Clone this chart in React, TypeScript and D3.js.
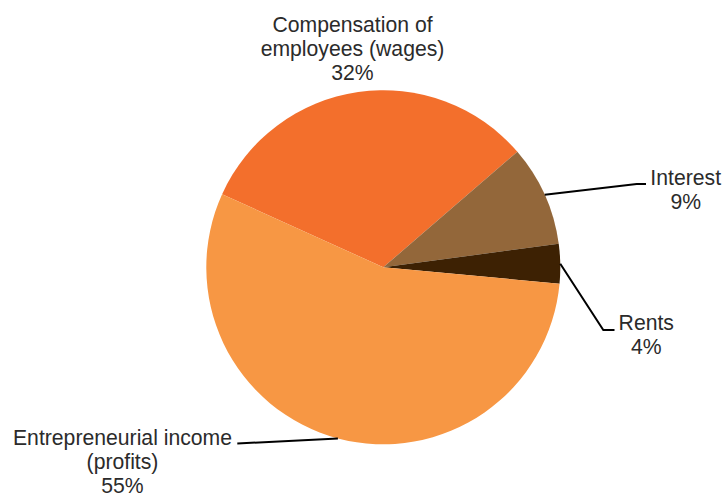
import React from "react";
import * as d3 from "d3";

const categories = ["Compensation of employees (wages)", "Interest", "Rents", "Entrepreneurial income (profits)"];
const values = [31.9, 9.2, 3.6, 55.3];
const colors = ["#F36F2C", "#93673A", "#3D2103", "#F79744"];
const labelLines = [
  ["Compensation of", "employees (wages)"],
  ["Interest"],
  ["Rents"],
  ["Entrepreneurial income", "(profits)"],
];

const W = 726, H = 495;
const cx = 383.3, cy = 267.3, R = 177;
const startDeg = -65.6;

// layout: label anchor (center x, first baseline y), leader elbow and end
const labelLayout = [
  { x: 352.5, y: 31.5, leader: null as null | number[][] },
  { x: 685.7, y: 185, leader: [[636.7, 184], [646, 184]] },
  { x: 646.3, y: 330, leader: [[603.3, 330], [614.5, 330]] },
  { x: 122.5, y: 444.5, leader: [[237.3, 443.5], [237.3, 443.5]] },
];

export default function App() {
  const pie = d3
    .pie<number>()
    .sort(null)
    .value((d) => d)
    .startAngle((startDeg * Math.PI) / 180)
    .endAngle((startDeg * Math.PI) / 180 + 2 * Math.PI);
  const arcs = pie(values);
  const arc = d3.arc<d3.PieArcDatum<number>>().innerRadius(0).outerRadius(R);
  const total = d3.sum(values);
  const fs = 21.2;
  const lh = 24;

  return (
    <svg
      width={W}
      height={H}
      style={{ position: "absolute", left: 0, top: 0, background: "#fff" }}
      fontFamily="'Liberation Sans', Arial, sans-serif"
    >
      <g transform={`translate(${cx},${cy})`}>
        {arcs.map((a, i) => (
          <path key={i} d={arc(a) || ""} fill={colors[i]} />
        ))}
      </g>
      {arcs.map((a, i) => {
        const lay = labelLayout[i];
        const mid = (a.startAngle + a.endAngle) / 2;
        const sx = cx + R * Math.sin(mid);
        const sy = cy - R * Math.cos(mid);
        const lines = [...labelLines[i], `${Math.round((values[i] / total) * 100)}%`];
        return (
          <g key={i}>
            {lay.leader && (
              <polyline
                points={[[sx, sy], ...lay.leader].map((p) => p.join(",")).join(" ")}
                fill="none"
                stroke="#000"
                strokeWidth={2}
              />
            )}
            <text x={lay.x} y={lay.y} textAnchor="middle" fontSize={fs} fill="#2b2b2b">
              {lines.map((l, j) => (
                <tspan key={j} x={lay.x} y={lay.y + j * lh}>
                  {l}
                </tspan>
              ))}
            </text>
          </g>
        );
      })}
    </svg>
  );
}
